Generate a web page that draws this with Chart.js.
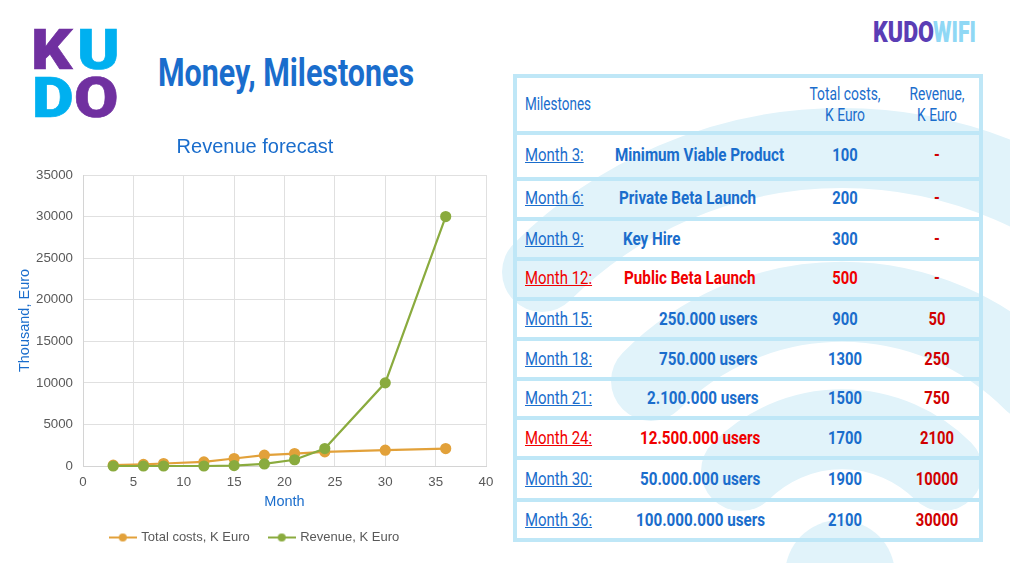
<!DOCTYPE html>
<html>
<head>
<meta charset="utf-8">
<script src="https://cdn.jsdelivr.net/npm/chart.js@4"></script>
<style>
html, body { margin: 0; padding: 0; background: #fff; overflow: hidden; }
#page { position: relative; width: 1010px; height: 563px; overflow: hidden; }
#wifi { position: absolute; left: 0; top: 0; }
#chart { position: absolute; left: 0; top: 130px; }
.bar { position: absolute; background: #bfe7f7; }
.txt { position: absolute; white-space: nowrap; font-family: Roboto, sans-serif; line-height: 1; }
.logo { position: absolute; font-family: Roboto, sans-serif; font-weight: 900; font-size: 56px; line-height: 1; -webkit-text-stroke: 0.6px currentColor; transform-origin: 0 50%; transform: scaleX(1.15); }
</style>
</head>
<body>
<div id="page">
  <svg id="wifi" width="1010" height="563" fill="none" stroke="#e1f3fa" stroke-width="80" stroke-linecap="round">
    <path d="M542 272 A425 425 0 0 1 1142 272"/>
    <path d="M651 381 A270 270 0 0 1 1033 381"/>
    <path d="M741 471 A143 143 0 0 1 943 471"/>
    <circle cx="840" cy="575" r="55" fill="#e1f3fa" stroke="none"/>
  </svg>
  <div class="logo" style="left:31px;top:22px;color:#7030a0">K</div>
  <div class="logo" style="left:77px;top:22px;color:#00b0f0">U</div>
  <div class="logo" style="left:32px;top:70px;color:#00b0f0">D</div>
  <div class="logo" style="left:74px;top:70px;color:#7030a0">O</div>
  <canvas id="chart" width="506" height="430"></canvas>
</div>
<script>
const months = [3, 6, 8, 12, 15, 18, 21, 24, 30, 36];
const totalCosts = [100, 200, 300, 500, 900, 1300, 1500, 1700, 1900, 2100];
const revenue = [0, 0, 0, 0, 50, 250, 750, 2100, 10000, 30000];

const monthLabels = ['Month 3:', 'Month 6:', 'Month 9:', 'Month 12:', 'Month 15:', 'Month 18:', 'Month 21:', 'Month 24:', 'Month 30:', 'Month 36:'];
const milestoneNames = ['Minimum Viable Product', 'Private Beta Launch', 'Key Hire', 'Public Beta Launch', '250.000 users', '750.000 users', '2.100.000 users', '12.500.000 users', '50.000.000 users', '100.000.000 users'];
const revenueCells = ['-', '-', '-', '-', '50', '250', '750', '2100', '10000', '30000'];
const highlightRows = [3, 7];

const BLUE = '#1a6dcc';
const RED = '#f00000';
const page = document.getElementById('page');

function put(text, x, y, o) {
    const el = document.createElement('div');
    el.className = 'txt';
    el.textContent = text;
    el.style.left = x + 'px';
    el.style.top = y + 'px';
    el.style.fontSize = (o.size || 18) + 'px';
    el.style.fontWeight = o.weight || 400;
    el.style.color = o.color || BLUE;
    if (o.underline) el.style.textDecoration = 'underline';
    const k = o.k || 0.82;
    el.style.transformOrigin = o.center ? '50% 50%' : '0 50%';
    el.style.transform = (o.center ? 'translate(-50%,-50%)' : 'translateY(-50%)') + ' scaleX(' + k + ')';
    page.appendChild(el);
    return el;
}

// header texts
put('Money, Milestones', 158, 73, { size: 38, weight: 700, k: 0.8 });
put('KUDO', 873, 32, { size: 30, weight: 900, color: '#5a3db5', k: 0.77 });
put('WIFI', 933, 32, { size: 30, weight: 900, color: '#8fd8f5', k: 0.71 });

// table frame
const frameLeft = 513, frameRight = 983;
const rowLines = [74, 131, 177, 217, 257, 297, 337, 377, 416, 456, 498, 538];
rowLines.forEach(function(y) {
    const b = document.createElement('div');
    b.className = 'bar';
    b.style.cssText = 'left:' + frameLeft + 'px;top:' + y + 'px;width:' + (frameRight - frameLeft) + 'px;height:4px';
    page.appendChild(b);
});
[513, 979].forEach(function(x) {
    const b = document.createElement('div');
    b.className = 'bar';
    b.style.cssText = 'left:' + x + 'px;top:74px;width:4px;height:468px';
    page.appendChild(b);
});

// table header
put('Milestones', 525, 104, { size: 18, k: 0.75 });
put('Total costs,', 845, 94, { size: 18, center: true, k: 0.77 });
put('K Euro', 845, 115, { size: 18, center: true, k: 0.77 });
put('Revenue,', 937, 94, { size: 18, center: true, k: 0.77 });
put('K Euro', 937, 115, { size: 18, center: true, k: 0.77 });

// table rows
const rowCenters = [155, 198, 239, 278, 319, 359, 398, 438, 479, 520];
const nameLeft = [615, 619, 623, 624, 659, 659, 647, 640, 640, 636];
monthLabels.forEach(function(label, i) {
    const hot = highlightRows.indexOf(i) >= 0;
    const y = rowCenters[i];
    put(label, 525, y, { size: 18, color: hot ? RED : BLUE, underline: true, k: 0.83 });
    put(milestoneNames[i], nameLeft[i], y, { size: 18, weight: 700, color: hot ? RED : BLUE, k: 0.845 });
    put(String(totalCosts[i]), 845, y, { size: 18, weight: 700, center: true, color: i === 3 ? RED : BLUE });
    put(revenueCells[i], 937, y, { size: 18, weight: 700, center: true, color: '#d00000' });
});

function legendMarker(color) {
    const c = document.createElement('canvas');
    c.width = 28;
    c.height = 10;
    const g = c.getContext('2d');
    g.strokeStyle = color;
    g.fillStyle = color;
    g.lineWidth = 2;
    g.beginPath();
    g.moveTo(0, 5);
    g.lineTo(28, 5);
    g.stroke();
    g.beginPath();
    g.arc(14, 5, 4, 0, Math.PI * 2);
    g.fill();
    return c;
}

const ORANGE = '#e2a13a';
const GREEN = '#8aab3e';
const fontName = '"Liberation Sans", Arial, sans-serif';

new Chart(document.getElementById('chart').getContext('2d'), {
    type: 'line',
    data: {
        datasets: [{
            label: 'Total costs, K Euro',
            data: months.map((m, i) => ({ x: m, y: totalCosts[i] })),
            borderColor: ORANGE,
            backgroundColor: ORANGE,
            borderWidth: 2.2,
            pointRadius: 4.5,
            clip: false,
            order: 2
        }, {
            label: 'Revenue, K Euro',
            data: months.map((m, i) => ({ x: m, y: revenue[i] })),
            borderColor: GREEN,
            backgroundColor: GREEN,
            borderWidth: 2.2,
            pointRadius: 4.5,
            clip: false,
            order: 1
        }]
    },
    options: {
        responsive: false,
        animation: false,
        layout: { padding: { left: 24, right: 20, top: 5, bottom: 6 } },
        plugins: {
            title: {
                display: true,
                text: 'Revenue forecast',
                color: BLUE,
                font: { family: fontName, size: 20, weight: 'normal' },
                padding: { top: 0, bottom: 16 }
            },
            legend: {
                position: 'bottom',
                labels: {
                    usePointStyle: true,
                    pointStyleWidth: 24,
                    color: '#595959',
                    font: { family: fontName, size: 13 },
                    padding: 20,
                    generateLabels: function(chart) {
                        return chart.data.datasets.map((d, i) => ({
                            text: d.label,
                            fontColor: '#595959',
                            pointStyle: legendMarker(d.borderColor),
                            datasetIndex: i,
                            lineWidth: 0
                        }));
                    }
                }
            },
            tooltip: { enabled: false }
        },
        scales: {
            x: {
                type: 'linear',
                min: 0,
                max: 40,
                ticks: { stepSize: 5, color: '#595959', font: { family: fontName, size: 13.3 }, padding: 8 },
                grid: { color: '#e0e0e0', tickLength: 0 },
                border: { color: '#d4d4d4', width: 1 },
                title: { display: true, text: 'Month', color: BLUE, font: { family: fontName, size: 14.5 }, padding: { top: 3, bottom: 0 } },
                afterFit: function(s) { s.height = 45; }
            },
            y: {
                min: 0,
                max: 35000,
                ticks: {
                    stepSize: 5000,
                    color: '#595959',
                    font: { family: fontName, size: 13.3 },
                    padding: 10,
                    callback: function(v) { return String(v); }
                },
                grid: { color: '#e0e0e0', tickLength: 0 },
                border: { color: '#d4d4d4', width: 1 },
                title: { display: true, text: 'Thousand, Euro', color: BLUE, font: { family: fontName, size: 14.5 }, padding: { top: -8, bottom: 0 } },
                afterFit: function(s) { s.width = 59; }
            }
        }
    }
});
</script>
</body>
</html>
